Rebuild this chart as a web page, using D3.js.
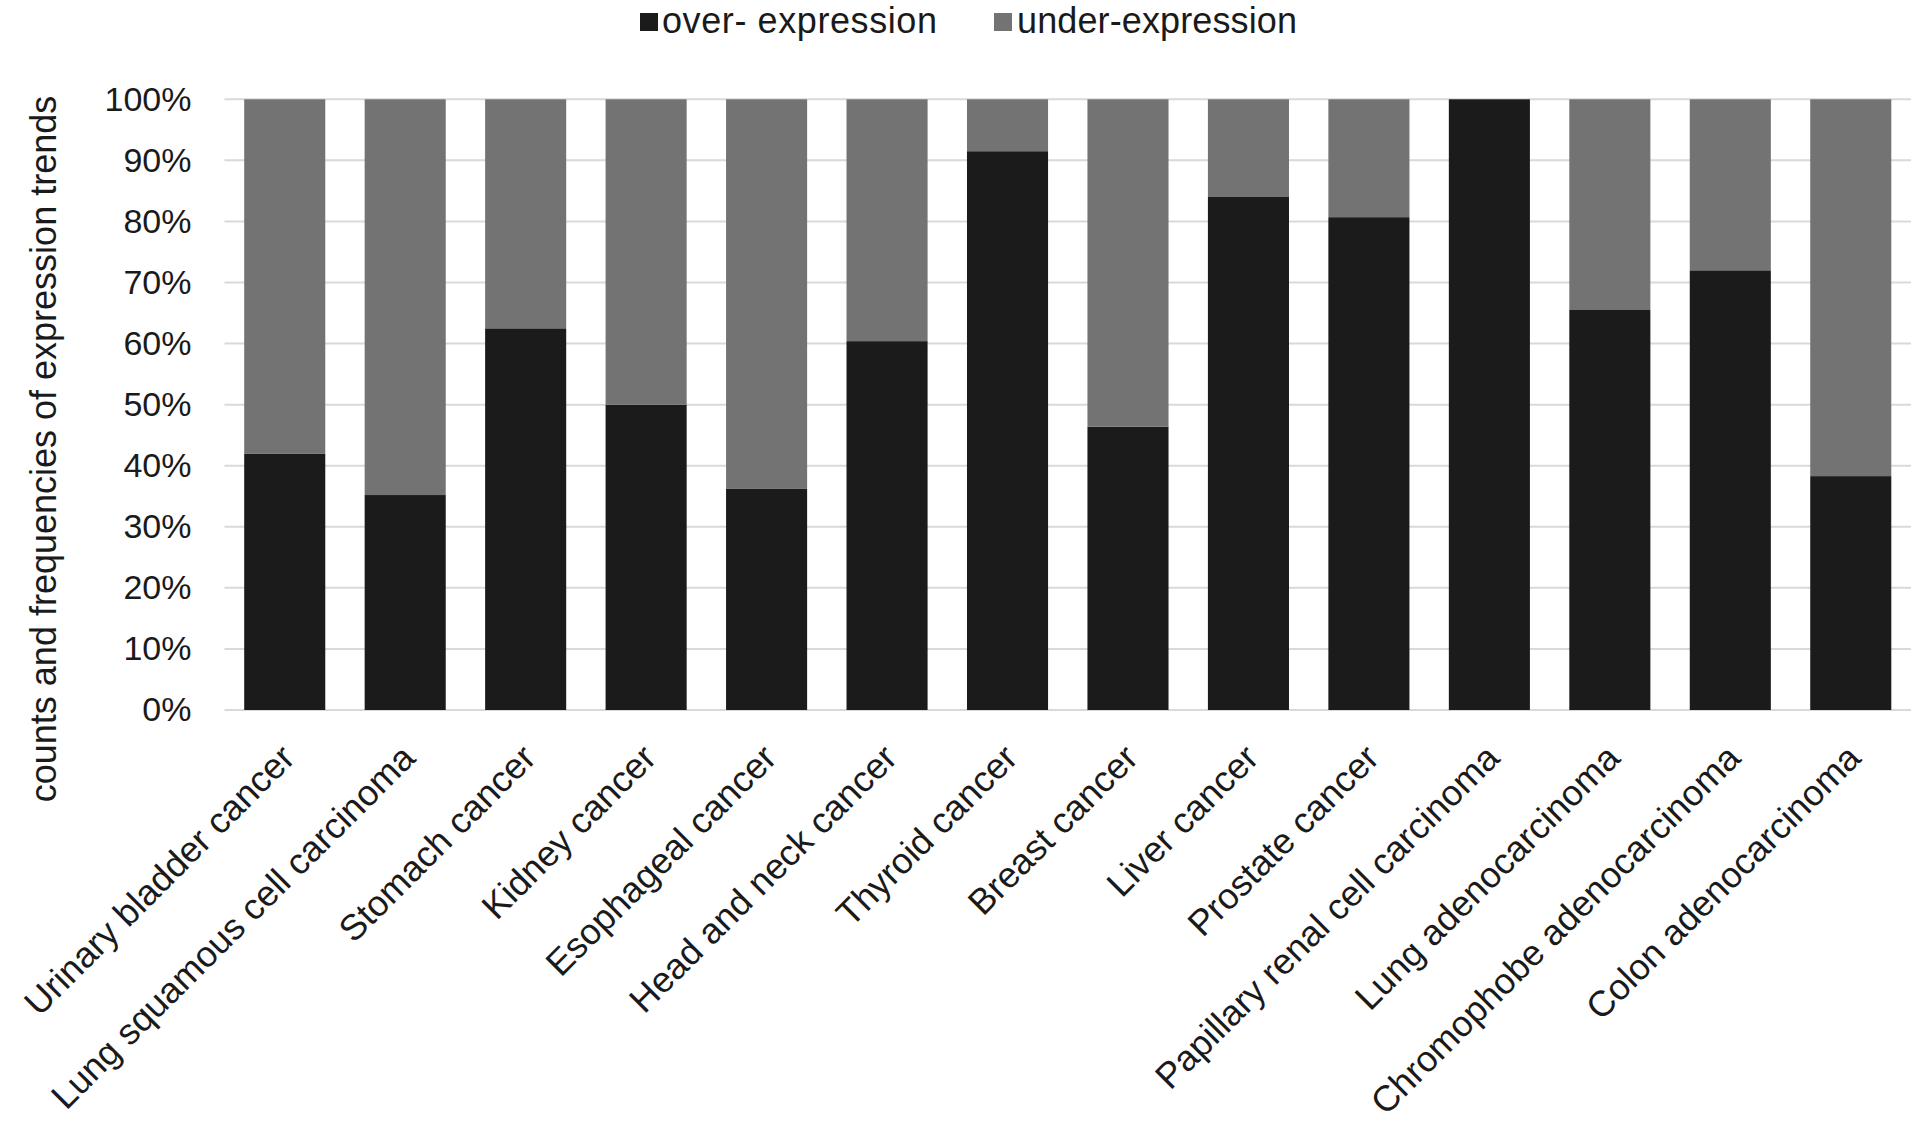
<!DOCTYPE html>
<html>
<head>
<meta charset="utf-8">
<script src="https://cdn.jsdelivr.net/npm/d3@7"></script>
<style>
  html, body { margin: 0; padding: 0; background: #ffffff; }
  svg { display: block; }
  text { font-family: "Liberation Sans", Arial, sans-serif; fill: #1a1a1a; }
</style>
</head>
<body>
<svg id="chart" width="1920" height="1121"></svg>
<script>
const categories = [
  "Urinary bladder cancer",
  "Lung squamous cell carcinoma",
  "Stomach cancer",
  "Kidney cancer",
  "Esophageal cancer",
  "Head and neck cancer",
  "Thyroid cancer",
  "Breast cancer",
  "Liver cancer",
  "Prostate cancer",
  "Papillary renal cell carcinoma",
  "Lung adenocarcinoma",
  "Chromophobe adenocarcinoma",
  "Colon adenocarcinoma"
];
const overExpression  = [42, 35.2, 62.5, 50, 36.2, 60.4, 91.5, 46.4, 84, 80.7, 100, 65.5, 72, 38.3];
const underExpression = [58, 64.8, 37.5, 50, 63.8, 39.6, 8.5, 53.6, 16, 19.3, 0, 34.5, 28, 61.7];
const seriesNames = ["over- expression", "under-expression"];
const seriesColors = ["#1b1b1b", "#737373"];
const yTicks = [0, 10, 20, 30, 40, 50, 60, 70, 80, 90, 100];
const yTitle = "counts and frequencies of expression trends";

const svg = d3.select("#chart");
const plot = { left: 224.5, right: 1911, top: 99.3, bottom: 710 };

const rows = categories.map((c, i) => ({ cat: c, over: overExpression[i], under: underExpression[i] }));
const stack = d3.stack().keys(["over", "under"]);
const stacked = stack(rows);

const x = d3.scaleBand().domain(categories).range([plot.left, plot.right])
  .paddingInner(0.327).paddingOuter(0.1635);
const y = d3.scaleLinear().domain([0, 100]).range([plot.bottom, plot.top]);

// gridlines
svg.append("g").selectAll("line").data(yTicks).join("line")
  .attr("x1", plot.left).attr("x2", plot.right)
  .attr("y1", d => y(d)).attr("y2", d => y(d))
  .attr("stroke", "#d9d9d9").attr("stroke-width", 2);

// bars
svg.append("g").selectAll("g").data(stacked).join("g")
  .attr("fill", (d, i) => seriesColors[i])
  .selectAll("rect").data(d => d).join("rect")
  .attr("x", d => x(d.data.cat))
  .attr("width", x.bandwidth())
  .attr("y", d => y(d[1]))
  .attr("height", d => y(d[0]) - y(d[1]));

// y axis
const yAxis = d3.axisLeft(y).tickValues(yTicks).tickFormat(d => d + "%").tickSize(0).tickPadding(0);
const yg = svg.append("g").attr("transform", `translate(${plot.left - 33},0)`).call(yAxis);
yg.select(".domain").remove();
yg.selectAll("text").attr("font-size", 34).attr("fill", "#1a1a1a")
  .style("font-family", '"Liberation Sans", Arial, sans-serif');

// x axis labels (rotated)
const xAxis = d3.axisBottom(x).tickSize(0).tickPadding(0);
const xg = svg.append("g").attr("transform", `translate(0,${plot.bottom})`).call(xAxis);
xg.select(".domain").remove();
xg.selectAll(".tick text")
  .attr("font-size", 36)
  .attr("fill", "#1a1a1a")
  .style("font-family", '"Liberation Sans", Arial, sans-serif')
  .attr("text-anchor", "end")
  .attr("dy", 0)
  .attr("y", 0)
  .attr("transform", "translate(12,50) rotate(-45)");

// y title
svg.append("text")
  .attr("transform", "translate(56,449) rotate(-90)")
  .attr("text-anchor", "middle")
  .attr("font-size", 36)
  .text(yTitle);

// legend
const legendItems = [
  { name: seriesNames[0], color: seriesColors[0], sx: 640, tx: 662, len: 275 },
  { name: seriesNames[1], color: seriesColors[1], sx: 994, tx: 1017, len: 280 }
];
const lg = svg.append("g");
lg.selectAll("rect").data(legendItems).join("rect")
  .attr("x", d => d.sx).attr("y", 13).attr("width", 18).attr("height", 18)
  .attr("fill", d => d.color);
lg.selectAll("text").data(legendItems).join("text")
  .attr("x", d => d.tx).attr("y", 33)
  .attr("font-size", 36)
  .attr("textLength", d => d.len)
  .attr("lengthAdjust", "spacing")
  .text(d => d.name);
</script>
</body>
</html>
